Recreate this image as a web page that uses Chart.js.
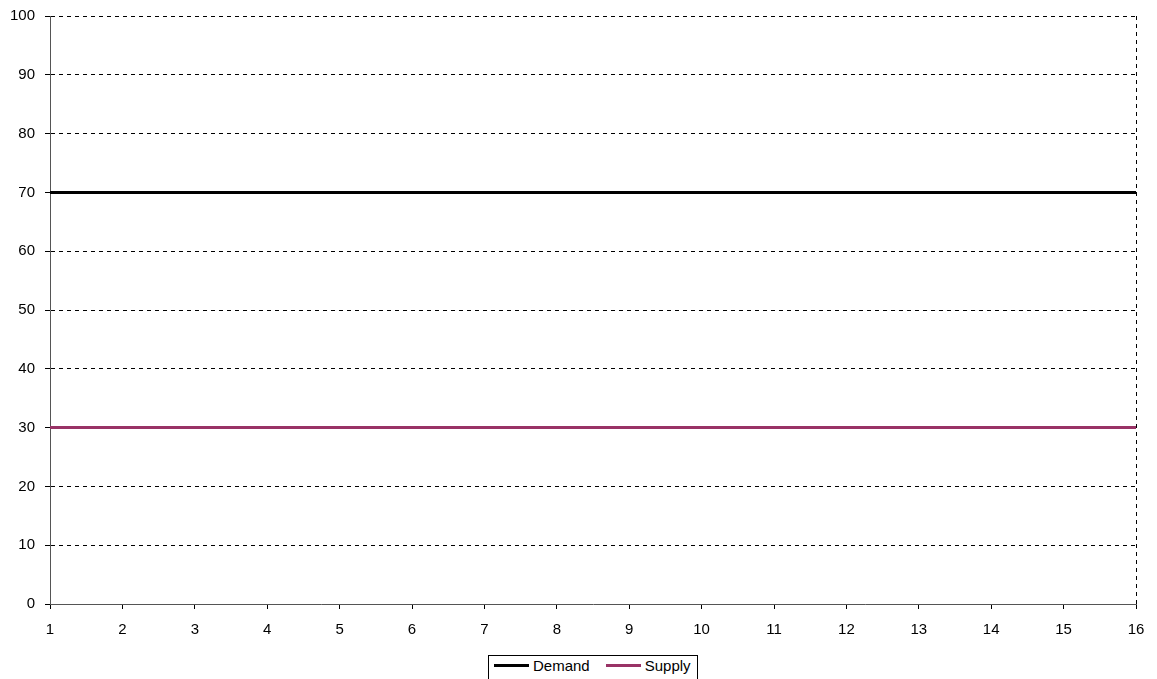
<!DOCTYPE html>
<html>
<head>
<meta charset="utf-8">
<script src="https://cdn.jsdelivr.net/npm/chart.js@4/dist/chart.umd.min.js"></script>
<style>
  html, body { margin: 0; padding: 0; background: #fff; overflow: hidden; }
  #wrap { position: relative; width: 1157px; height: 679px; }
  #legend {
    position: absolute; top: 655px; height: 28px;
    border: 1px solid #000; background: #fff;
    font-family: 'Liberation Sans', Arial, sans-serif; font-size: 15px; color: #000;
    display: flex; align-items: flex-start; padding: 1px 6px 0 5px; box-sizing: border-box;
    white-space: nowrap;
  }
  .item { display: flex; align-items: center; margin-right: 16px; height: 17px; }
  .item:last-child { margin-right: 0; }
  .swatch { display: inline-block; width: 35px; height: 3px; margin-right: 4px; }
</style>
</head>
<body>
<div id="wrap"><canvas id="chart"></canvas><div id="legend"></div></div>
<script>
// data
const periods = [1, 2, 3, 4, 5, 6, 7, 8, 9, 10, 11, 12, 13, 14, 15, 16];
const demand = [70, 70, 70, 70, 70, 70, 70, 70, 70, 70, 70, 70, 70, 70, 70, 70];
const supply = [30, 30, 30, 30, 30, 30, 30, 30, 30, 30, 30, 30, 30, 30, 30, 30];
const yTicks = [0, 10, 20, 30, 40, 50, 60, 70, 80, 90, 100];

const tickFont = { family: 'Liberation Sans, Arial, sans-serif', size: 15 };

document.addEventListener('DOMContentLoaded', function() {
    const ctx = document.getElementById('chart').getContext('2d');

    const chart = new Chart(ctx, {
        type: 'line',
        data: {
            datasets: [{
                label: 'Demand',
                data: periods.map((p, i) => ({ x: p, y: demand[i] })),
                borderColor: '#000000',
                borderWidth: 3,
                pointRadius: 0,
                fill: false
            },
            {
                label: 'Supply',
                data: periods.map((p, i) => ({ x: p, y: supply[i] })),
                borderColor: '#993366',
                borderWidth: 3,
                pointRadius: 0,
                fill: false
            }]
        },
        options: {
            responsive: true,
            maintainAspectRatio: false,
            animation: false,
            layout: {
                padding: { top: 16, right: 21, left: 0, bottom: 0 }
            },
            plugins: {
                legend: { display: false },
                tooltip: { enabled: false }
            },
            scales: {
                x: {
                    type: 'linear',
                    min: 1,
                    max: 16,
                    afterFit: scale => { scale.height = 75; },
                    ticks: {
                        stepSize: 1,
                        color: '#000',
                        padding: 12,
                        font: tickFont
                    },
                    grid: {
                        color: c => (c.tick && c.tick.value === 16) ? '#000' : 'rgba(0,0,0,0)',
                        tickColor: '#000',
                        tickLength: 5,
                        tickBorderDash: []
                    },
                    border: { display: true, color: '#555', width: 1, dash: [4, 4] }
                },
                y: {
                    min: 0,
                    max: 100,
                    afterFit: scale => {
                        scale.width = 50;
                        scale.paddingTop = 0;
                        scale.paddingBottom = 0;
                    },
                    afterBuildTicks: scale => { scale.ticks = yTicks.map(v => ({ value: v })); },
                    ticks: {
                        color: '#000',
                        padding: 10,
                        font: tickFont
                    },
                    grid: {
                        color: c => (c.tick && c.tick.value === 0) ? 'rgba(0,0,0,0)' : '#000',
                        tickColor: '#000',
                        tickLength: 5,
                        tickBorderDash: []
                    },
                    border: { display: true, color: '#555', width: 1, dash: [4, 4] }
                }
            }
        }
    });

    // boxed legend under the plot, centred on the chart area
    const legend = document.getElementById('legend');
    chart.data.datasets.forEach(ds => {
        const item = document.createElement('span');
        item.className = 'item';
        const sw = document.createElement('span');
        sw.className = 'swatch';
        sw.style.background = ds.borderColor;
        item.appendChild(sw);
        item.appendChild(document.createTextNode(ds.label));
        legend.appendChild(item);
    });
    const area = chart.chartArea;
    legend.style.left = Math.round((area.left + area.right) / 2 - legend.offsetWidth / 2) + 'px';
});
</script>
</body>
</html>
